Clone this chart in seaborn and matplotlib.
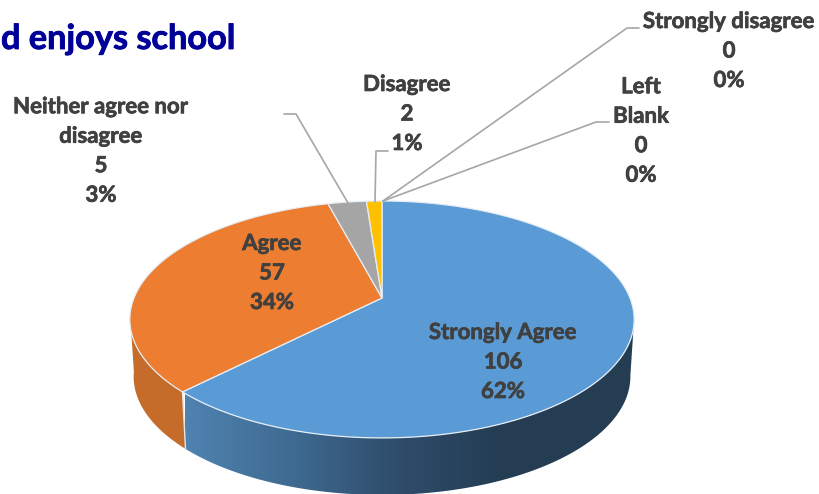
"""plot.py - 3D style pie of the 'enjoys school' survey question."""

import numpy as np
import matplotlib
matplotlib.use("Agg")
import matplotlib.pyplot as plt
import matplotlib.patheffects as pe
from matplotlib.patches import Polygon
import seaborn as sns

# ---------------------------------------------------------------------------
# Data
# ---------------------------------------------------------------------------
categories = ["Strongly Agree", "Agree", "Neither agree nor\ndisagree",
              "Disagree", "Left\nBlank", "Strongly disagree"]
counts = [106, 57, 5, 2, 0, 0]
percents = [62, 34, 3, 1, 0, 0]
top_colors = ["#5b9bd5", "#ed7d31", "#a5a5a5", "#ffc000", "#4472c4", "#70ad47"]
orange_side = "#c56c2b"
blue_side_stops = ["#4f83b0", "#3f6b92", "#2f4d6c", "#243d53"]

# label centres in picture pixels
label_xy = [(503, 362), (272, 273), (101, 151), (407, 114), (641, 131), (729, 51)]
# leader lines for the labels sitting outside the pie
leaders = {
    2: [(284, 114), (296, 114), (348, 203)],
    3: [(388, 151), (376, 151), (375, 202)],
    4: [(609, 122), (596, 122), (383, 201)],
    5: [(639, 28), (627, 28), (383, 201)],
}

TITLE = "d enjoys school"

# ---------------------------------------------------------------------------
# Projection of the pie disc (perspective, the near edge looks bigger)
# ---------------------------------------------------------------------------
CX, CY = 382, 298
WIDTH, HEIGHT, PERSP = 248, 114.6, 0.181
DEPTH, BOTTOM_SCALE = 57, 0.985


def project(theta, r=1.0, bottom=False):
    """theta is clockwise from 12 o'clock, in degrees."""
    t = np.radians(theta)
    x, y = r * np.sin(t), r * np.cos(t)
    w = 1 + PERSP * y
    px = WIDTH * x / w
    py = -HEIGHT * y / w
    if bottom:
        return CX + px * BOTTOM_SCALE, CY + py + DEPTH
    return CX + px, CY + py


def side_polygon(start, end):
    """Outline of the wall between two angles."""
    thetas = np.linspace(start, end, 200)
    x0, y0 = project(thetas)
    x1, y1 = project(thetas[::-1], bottom=True)
    return np.column_stack([np.r_[x0, x1], np.r_[y0, y1]])


sns.set_theme(style="white")
plt.rcParams["font.family"] = ["Lato", "DejaVu Sans"]

fig, ax = plt.subplots(figsize=(8.19, 4.94), dpi=100)
fig.subplots_adjust(0, 0, 1, 1)

edges = np.cumsum([0] + counts) / sum(counts) * 360

# ---- side wall: blue one fades from left to right, orange is flat ----
palette = sns.blend_palette(blue_side_stops, 256)
gradient = np.array(palette)[None, :, :]
im = ax.imshow(gradient, extent=(185, 500, 494, 300), aspect="auto", zorder=2)
dark = ax.imshow(np.array(palette[-1:])[None, :, :], extent=(500, 650, 494, 300),
                 aspect="auto", zorder=2)
blue_wall = Polygon(side_polygon(100, edges[1]), transform=ax.transData)
im.set_clip_path(blue_wall)
dark.set_clip_path(blue_wall)

ax.fill(*side_polygon(edges[1], 262).T, color=orange_side, lw=0, zorder=2)

ax.set_xlim(0, 819)
ax.set_ylim(494, 0)
ax.axis("off")

# seam between the blue and orange walls
sx0, sy0 = project(edges[1])
sx1, sy1 = project(edges[1], bottom=True)
ax.plot([sx0, sx1], [sy0, sy1], color="#e4e4e4", lw=1, zorder=3)

# ---- top face ----
for i in range(len(counts)):
    if counts[i] == 0:
        continue
    thetas = np.linspace(edges[i], edges[i + 1], 200)
    xs, ys = project(thetas)
    ax.fill(np.r_[CX, xs], np.r_[CY, ys], facecolor=top_colors[i],
            edgecolor="#e6eef6", lw=0.9, zorder=4)

# ---- leader lines ----
for pts in leaders.values():
    xs, ys = zip(*pts)
    ax.plot(xs, ys, color="#a6a6a6", lw=1.2, zorder=5)

# ---- labels ----
for name, n, p, (x, y) in zip(categories, counts, percents, label_xy):
    ax.text(x, y, f"{name}\n{n}\n{p}%", ha="center", va="center", fontsize=16,
            fontweight="bold", color="#404040", linespacing=1.5, zorder=6,
            path_effects=[pe.withStroke(linewidth=0.5, foreground="#404040")])

ax.text(235, 39, TITLE, ha="right", va="center", fontsize=24.7, fontweight="bold",
        color="#000099",
        path_effects=[pe.withStroke(linewidth=0.6, foreground="#000099")])

fig.savefig("out.png", dpi=100)
plt.close(fig)
